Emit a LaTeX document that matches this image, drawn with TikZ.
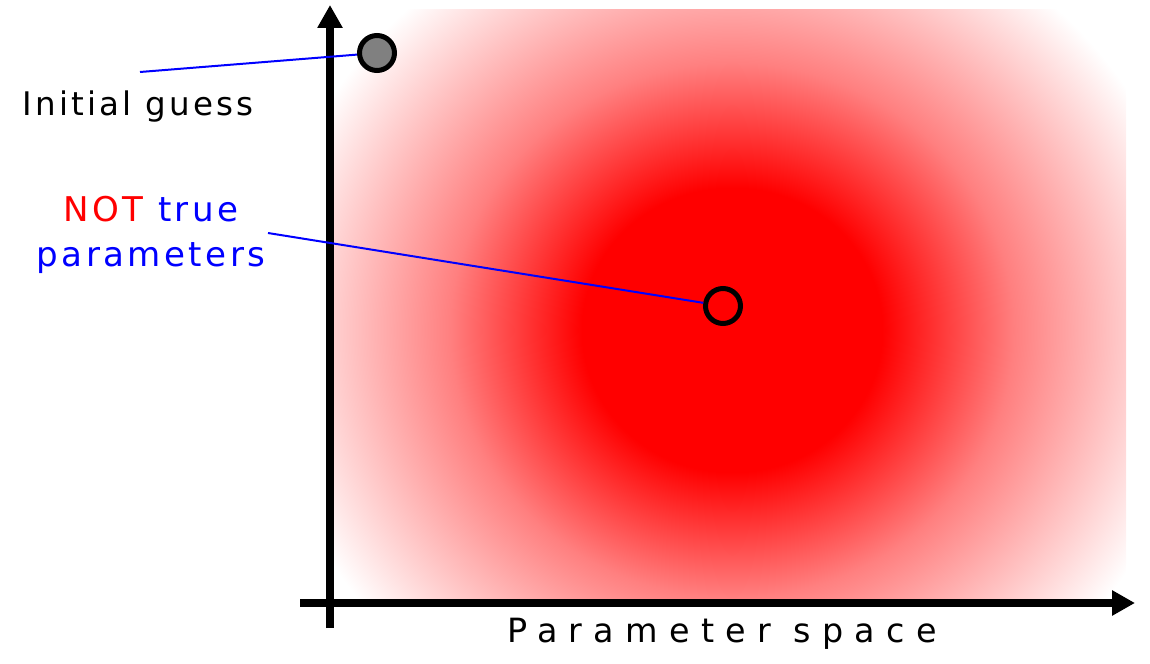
\documentclass[tikz,border=0pt]{standalone}
\usepackage{fontspec}
\setmainfont{DejaVu Sans}
\newfontfamily\labelfont[LetterSpace=10]{DejaVu Sans}
\newfontfamily\axisfont[LetterSpace=34]{DejaVu Sans}
\usepackage{xcolor}
\usepackage{tikz}
\usetikzlibrary{positioning, arrows.meta}
\definecolor{myred}{HTML}{FF0000}
\definecolor{myblue}{HTML}{0000FF}
\definecolor{mygray}{HTML}{808080}
\pgfdeclareradialshading{redglow}{\pgfpoint{0bp}{0bp}}{%
  color(0bp)=(myred); color(8bp)=(myred); color(15bp)=(myred!50);
  color(25bp)=(white); color(50bp)=(white)}

\begin{document}
\begin{tikzpicture}[
  x=0.02cm, y=-0.02cm,
  axis/.style={line width=0.16cm, -{Triangle[length=0.46cm, width=0.48cm]}},
  dot/.style={circle, draw=black, line width=0.1cm, minimum size=0.7cm, inner sep=0pt},
  lead/.style={myblue, line width=0.04cm},
  lbl/.style={font=\labelfont\fontsize{18.5}{23.3}\selectfont, inner sep=0pt},
  axlbl/.style={font=\axisfont\fontsize{19}{23}\selectfont, inner sep=0pt}
]
\useasboundingbox (0,0) rectangle (1150,663);

% cost landscape
\begin{scope}
  \clip (331,9) rectangle (1126,600);
  \shade[shading=redglow] (732,330) ellipse [x radius=470, y radius=445];
\end{scope}

\coordinate (ybot) at (330,628);
\coordinate (ytop) at (330,5);
\coordinate (xleft) at (300,603);
\coordinate (xright) at (1135,603);
\draw[axis] (ybot) -- (ytop);
\draw[axis] (xleft) -- (xright);

\node[dot, fill=mygray] (guess) at (377,53) {};
\node[dot] (found) at (723,306) {};

\node[lbl, anchor=base] (guesslbl) at (138,115) {Initial guess};
\node[lbl, align=center, text=myblue, font=\labelfont\fontsize{19.4}{23.3}\selectfont] (foundlbl) at (151,235)
  {\textcolor{myred}{NOT} true\\[2pt]parameters};
\node[axlbl, anchor=base] (xlbl) at (722,642) {Parameter space};

\coordinate (guessend) at (140,72);
\coordinate (foundend) at (268,233);
\draw[lead] (guessend) -- (guess);
\draw[lead] (foundend) -- (found);
\end{tikzpicture}
\end{document}
